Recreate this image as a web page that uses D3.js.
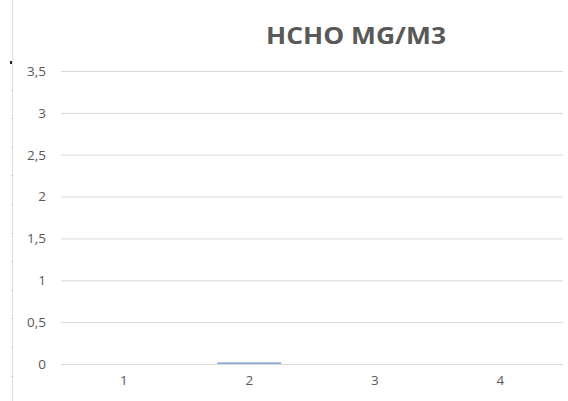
<!DOCTYPE html>
<html>
<head>
<meta charset="utf-8">
<script src="https://cdn.jsdelivr.net/npm/d3@7"></script>
<style>
  html, body { margin: 0; padding: 0; background: #fff; }
  svg { display: block; }
  text { font-family: "Open Sans", "Liberation Sans", sans-serif; }
</style>
</head>
<body>
<svg id="chart" width="568" height="401"></svg>
<script>
// Formaldehyde readings per sample
const categories = ["1", "2", "3", "4"];
const values = [0, 0.02, 0, 0];
const yTicks = [0, 0.5, 1, 1.5, 2, 2.5, 3, 3.5];
const title = "HCHO MG/M3";

const W = 568, H = 401;
const margin = { left: 61, right: 5, top: 71, bottom: 37 };
const svg = d3.select("#chart");

// page edge guide on the left, with small ruler marks
svg.append("line")
  .attr("x1", 12.5).attr("x2", 12.5).attr("y1", 0).attr("y2", H)
  .attr("stroke", "#e0e0e0").attr("stroke-width", 1);
svg.append("g").selectAll("line")
  .data(d3.range(61 + 28.6, H, 28.6))
  .join("line")
  .attr("x1", 11).attr("x2", 13)
  .attr("y1", d => Math.round(d) + 0.5).attr("y2", d => Math.round(d) + 0.5)
  .attr("stroke", "#d0d0d0");
svg.append("rect").attr("x", 10).attr("y", 61).attr("width", 2).attr("height", 3).attr("fill", "#222");

const x = d3.scaleBand()
  .domain(categories)
  .range([margin.left, W - margin.right])
  .paddingInner(0.49).paddingOuter(0.245);

const y = d3.scaleLinear()
  .domain([0, 3.5])
  .range([H - margin.bottom, margin.top]);

const fmt = d => String(d).replace(".", ",");

// horizontal gridlines + value labels
const yAxis = d3.axisLeft(y).tickValues(yTicks).tickFormat(fmt)
  .tickSize(-(W - margin.right - margin.left)).tickPadding(15);
const gy = svg.append("g")
  .attr("transform", `translate(${margin.left},0)`)
  .call(yAxis);
gy.select(".domain").remove();
gy.selectAll(".tick line").attr("stroke", "#d9d9d9").attr("stroke-width", 1);
gy.selectAll(".tick text").attr("fill", "#595959").style("font-size", "13.5px");

// bars
svg.append("g").selectAll("rect")
  .data(values)
  .join("rect")
  .attr("x", (d, i) => x(categories[i]))
  .attr("width", x.bandwidth())
  .attr("y", d => y(d))
  .attr("height", d => y(0) - y(d))
  .attr("fill", "#8faadc");

// category labels
const xAxis = d3.axisBottom(x).tickSize(0).tickPadding(11);
const gx = svg.append("g")
  .attr("transform", `translate(0,${y(0)})`)
  .call(xAxis);
gx.select(".domain").remove();
gx.selectAll(".tick text").attr("fill", "#595959").style("font-size", "13.5px");

// title
svg.append("text")
  .attr("x", 356).attr("y", 44)
  .attr("text-anchor", "middle")
  .attr("fill", "#595959")
  .attr("textLength", 180)
  .attr("lengthAdjust", "spacingAndGlyphs")
  .style("font-size", "23px")
  .style("font-weight", "bold")
  .text(title);
</script>
</body>
</html>
